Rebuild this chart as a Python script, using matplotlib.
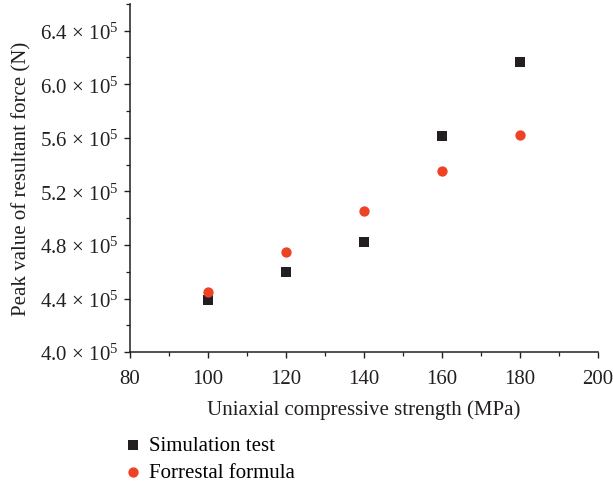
import matplotlib
matplotlib.use("Agg")
import matplotlib.pyplot as plt
from matplotlib.ticker import FixedLocator, MultipleLocator, FuncFormatter

x_strength = [100, 120, 140, 160, 180]
simulation = [4.39e5, 4.60e5, 4.82e5, 5.615e5, 6.165e5]
forrestal = [4.45e5, 4.745e5, 5.055e5, 5.35e5, 5.62e5]
y_ticks = [4.0e5, 4.4e5, 4.8e5, 5.2e5, 5.6e5, 6.0e5, 6.4e5]
x_ticks = [80, 100, 120, 140, 160, 180, 200]

plt.rcParams['font.family'] = ['Liberation Serif', 'DejaVu Serif']
plt.rcParams['mathtext.fontset'] = 'custom'
plt.rcParams['mathtext.rm'] = 'Liberation Serif'
plt.rcParams['mathtext.it'] = 'Liberation Serif:italic'
plt.rcParams['mathtext.bf'] = 'Liberation Serif:bold'

fig = plt.figure(figsize=(6.13, 4.85), dpi=100)
ax = fig.add_axes([0.212, 0.272, 0.7635, 0.718])

ax.scatter(x_strength, simulation, marker='s', s=42, color='#231f20', label='Simulation test', zorder=3, linewidths=0)
ax.scatter(x_strength, forrestal, marker='o', s=55, color='#ef4123', label='Forrestal formula', zorder=3, linewidths=0)

ax.set_xlim(80, 200)
ax.set_ylim(4.0e5, 6.6e5)
ax.xaxis.set_major_locator(FixedLocator(x_ticks))
ax.xaxis.set_minor_locator(MultipleLocator(10))
ax.yaxis.set_major_locator(FixedLocator(y_ticks))
ax.yaxis.set_minor_locator(MultipleLocator(0.2e5))

def yfmt(v, pos):
    return r'$\mathregular{%.1f\,\times\,10^{5}}$' % (v / 1e5)
ax.yaxis.set_major_formatter(FuncFormatter(yfmt))

for s in ['top', 'right']:
    ax.spines[s].set_visible(False)
for s in ['left', 'bottom']:
    ax.spines[s].set_linewidth(1.1)
    ax.spines[s].set_color('#231f20')

ax.tick_params(axis='both', which='major', direction='out', length=4, width=1.0, labelsize=15, colors='#231f20', pad=4)
ax.tick_params(axis='x', which='major', pad=8)
ax.tick_params(axis='both', which='minor', direction='out', length=3, width=0.9, colors='#231f20')

ax.set_xlabel('Uniaxial compressive strength (MPa)', fontsize=15, color='#231f20', labelpad=8)
ax.set_ylabel('Peak value of resultant force (N)', fontsize=15, color='#231f20', labelpad=6)

handles, labels = ax.get_legend_handles_labels()
fig.legend(handles, labels, loc='upper left', bbox_to_anchor=(0.186, 0.117), frameon=False,
           fontsize=15, handletextpad=0.3, labelspacing=0.35, handlelength=1.0, borderaxespad=0)

fig.savefig('out.png', dpi=100)
